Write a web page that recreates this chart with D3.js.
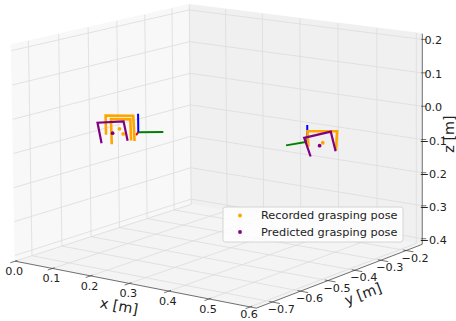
<!DOCTYPE html>
<html><head><meta charset="utf-8">
<script src="https://cdn.jsdelivr.net/npm/d3@7"></script>
<style>body{margin:0;background:#fff}svg{display:block;font-family:"DejaVu Sans",sans-serif}</style>
</head><body><svg id="c" width="456" height="321"></svg>
<script>
// ---------------- data ----------------
const xLim = [0, 0.615];
const yLim = [-0.755, -0.135];
const zLim = [-0.417, 0.217];
const xTicks = [0.0, 0.1, 0.2, 0.3, 0.4, 0.5, 0.6];
const yTicks = [-0.7, -0.6, -0.5, -0.4, -0.3, -0.2];
const zTicks = [-0.4, -0.3, -0.2, -0.1, 0.0, 0.1, 0.2];
const seriesNames = ["Recorded grasping pose", "Predicted grasping pose"];

// gripper outlines: finger tip, finger base, finger base, finger tip  (x, y, z in m)
const recordedGrippers = [
  [[0.1234, -0.6, -0.057], [0.1229, -0.6, -0.004], [0.1958, -0.6, 0.0075], [0.1984, -0.6, -0.062]],
  [[0.1382, -0.6, -0.082], [0.1370, -0.6, -0.012], [0.1881, -0.6, -0.004], [0.1894, -0.6, -0.062]],
  [[0.5003, -0.4, -0.073], [0.4982, -0.4, -0.032], [0.5722, -0.4, -0.019], [0.5695, -0.4, -0.071]]
];
const predictedGrippers = [
  [[0.1106, -0.6, -0.085], [0.1011, -0.6, -0.029], [0.1702, -0.6, -0.013], [0.1797, -0.6, -0.065]],
  [[0.5050, -0.4, -0.102], [0.4899, -0.4, -0.053], [0.5565, -0.4, -0.023], [0.5677, -0.4, -0.075]]
];
const recordedPoints = [[0.1592, -0.6, -0.037], [0.1690, -0.6, -0.050], [0.5364, -0.4, -0.059]];
const predictedPoints = [[0.1408, -0.6, -0.053], [0.5285, -0.4, -0.069]];

// object frames: origin and axis vectors (m)
const frameOrigins = [[0.2086, -0.6, -0.038], [0.4977, -0.4, -0.063]];
const frameAxisX = [[0.014, -0.026, 0], [-0.014, 0.010, 0]];
const frameAxisY = [[0.0415, 0.0314, 0], [-0.016, -0.055, 0]];
const frameAxisZ = [[0, 0, 0.054], [0, 0, 0.049]];

// ---------------- projection ----------------
const sxN = d3.scaleLinear().domain(xLim).range([0, 1]);
const syN = d3.scaleLinear().domain(yLim).range([0, 1]);
const szN = d3.scaleLinear().domain(zLim).range([0, 1]);

// box corners (normalised) -> screen, used to calibrate a perspective camera
const calib = [
  [0,0,0, 14,262],[1,0,0, 258,306],[1,1,0, 421,248],[0,1,0, 192,202],
  [0,0,1, 11,46],[0,1,1, 190,5],[1,1,1, 422,32]
];
function solveCamera(pts){
  const A=[], b=[];
  for (const [u,v,w,X,Y] of pts){
    A.push([u,v,w,1,0,0,0,0,-X*u,-X*v,-X*w]); b.push(X);
    A.push([0,0,0,0,u,v,w,1,-Y*u,-Y*v,-Y*w]); b.push(Y);
  }
  const n=11, M=[];
  for (let i=0;i<n;i++){
    const row=new Array(n+1).fill(0);
    for (let j=0;j<n;j++) for (let k=0;k<A.length;k++) row[j]+=A[k][i]*A[k][j];
    for (let k=0;k<A.length;k++) row[n]+=A[k][i]*b[k];
    M.push(row);
  }
  for (let c=0;c<n;c++){
    let p=c; for (let r=c+1;r<n;r++) if (Math.abs(M[r][c])>Math.abs(M[p][c])) p=r;
    [M[c],M[p]]=[M[p],M[c]];
    for (let r=0;r<n;r++){ if(r===c) continue; const f=M[r][c]/M[c][c]; for(let j=c;j<=n;j++) M[r][j]-=f*M[c][j]; }
  }
  return M.map((r,i)=>r[n]/r[i]);
}
const P = solveCamera(calib);
function projN(u,v,w){
  const d=P[8]*u+P[9]*v+P[10]*w+1;
  return [(P[0]*u+P[1]*v+P[2]*w+P[3])/d, (P[4]*u+P[5]*v+P[6]*w+P[7])/d];
}
const proj = p => projN(sxN(p[0]), syN(p[1]), szN(p[2]));

// ---------------- drawing ----------------
const svg = d3.select("#c");
const line = d3.line();
const gridColor = "#dcdcdc";

function poly(pts, fill){
  svg.append("path").attr("d", line(pts.map(p=>projN(...p)))+"Z")
    .attr("fill", fill).attr("stroke", fill).attr("stroke-width", 1);
}
poly([[0,0,0],[0,1,0],[0,1,1],[0,0,1]], "#f8f8f8");
poly([[0,1,0],[1,1,0],[1,1,1],[0,1,1]], "#f0f0f0");
poly([[0,0,0],[1,0,0],[1,1,0],[0,1,0]], "#f4f4f4");

function seg(a,b,color,w){
  svg.append("path").attr("d", line([projN(...a),projN(...b)]))
    .attr("stroke", color).attr("stroke-width", w).attr("fill","none");
}
// grid
xTicks.forEach(t=>{ const u=sxN(t); seg([u,0,0],[u,1,0],gridColor,0.8); seg([u,1,0],[u,1,1],gridColor,0.8); });
yTicks.forEach(t=>{ const v=syN(t); seg([0,v,0],[1,v,0],gridColor,0.8); seg([0,v,0],[0,v,1],gridColor,0.8); });
zTicks.forEach(t=>{ const w=szN(t); seg([0,0,w],[0,1,w],gridColor,0.8); seg([0,1,w],[1,1,w],gridColor,0.8); });

// axis lines
const axisColor = "#444";
seg([0,0,0],[1,0,0],axisColor,0.75);
seg([1,0,0],[1,1,0],axisColor,0.75);
seg([1,1,0],[1,1,1],axisColor,0.75);

const fmt = v => d3.format(".1f")(v).replace("-", "\u2212");
const tickFont = 11.2;
xTicks.forEach(t=>{
  const u=sxN(t);
  seg([u,0.012,0],[u,-0.025,0],axisColor,0.75);
  const [x,y]=projN(u,0,0);
  svg.append("text").attr("x",x-1).attr("y",Math.min(y+14,318)).attr("text-anchor","middle")
    .attr("font-size",tickFont).attr("fill","#222").text(fmt(t));
});
yTicks.forEach(t=>{
  const v=syN(t);
  seg([0.988,v,0],[1.03,v,0],axisColor,0.75);
  const [x,y]=projN(1,v,0);
  svg.append("text").attr("x",x+9).attr("y",y+11).attr("text-anchor","middle")
    .attr("font-size",tickFont).attr("fill","#222").text(fmt(t));
});
zTicks.forEach(t=>{
  const w=szN(t);
  const [x,y]=projN(1,1,w);
  svg.append("line").attr("x1",x-1).attr("x2",x+4).attr("y1",y).attr("y2",y).attr("stroke",axisColor).attr("stroke-width",0.75);
  svg.append("text").attr("x",x+11).attr("y",y+5).attr("text-anchor","middle")
    .attr("font-size",tickFont).attr("fill","#222").text(fmt(t));
});

// axis labels
const labFont = 14.4;
function axLabel(txt,x,y,rot){
  svg.append("text").attr("transform",`translate(${x},${y}) rotate(${rot})`)
    .attr("text-anchor","middle").attr("dominant-baseline","central")
    .attr("font-size",labFont).attr("fill","#222").text(txt);
}
axLabel("x [m]", 119, 306, 10.5);
axLabel("y [m]", 363, 294, -21);
axLabel("z [m]", 449, 134, -90);

// object frames
const frameColors = ["#ff0000", "#008000", "#0000ff"];
const lineP = d3.line();
frameOrigins.forEach((o,i)=>{
  [frameAxisX[i], frameAxisY[i], frameAxisZ[i]].forEach((a,k)=>{
    const e=[o[0]+a[0], o[1]+a[1], o[2]+a[2]];
    svg.append("path").attr("d", lineP([proj(o),proj(e)])).attr("stroke",frameColors[k])
      .attr("stroke-width",2).attr("fill","none");
  });
});

// grippers
const colRec = "#ffa500", colPred = "#800080";
function drawGrippers(arr, color, w){
  arr.forEach(g=>{
    svg.append("path").attr("d", lineP(g.map(proj))).attr("stroke",color).attr("stroke-width",w)
      .attr("fill","none").attr("stroke-linejoin","miter").attr("stroke-linecap","square");
  });
}
drawGrippers(recordedGrippers, colRec, 2.6);
drawGrippers(predictedGrippers, colPred, 2.2);

// points
function drawPoints(arr, color){
  arr.forEach(p=>{ const [x,y]=proj(p); svg.append("circle").attr("cx",x).attr("cy",y).attr("r",1.9).attr("fill",color); });
}
drawPoints(recordedPoints, colRec);
drawPoints(predictedPoints, colPred);

// legend
const lg = svg.append("g");
lg.append("rect").attr("x",223).attr("y",207).attr("width",180).attr("height",35).attr("rx",2.5)
  .attr("fill","#fff").attr("fill-opacity",0.8).attr("stroke","#cccccc").attr("stroke-width",0.8);
[colRec,colPred].forEach((c,i)=>{
  const y = 215.5 + i*16.5;
  lg.append("circle").attr("cx",240).attr("cy",y).attr("r",1.9).attr("fill",c);
  lg.append("text").attr("x",261).attr("y",y).attr("dominant-baseline","central")
    .attr("font-size",11.3).attr("fill","#222").text(seriesNames[i]);
});
</script></body></html>
